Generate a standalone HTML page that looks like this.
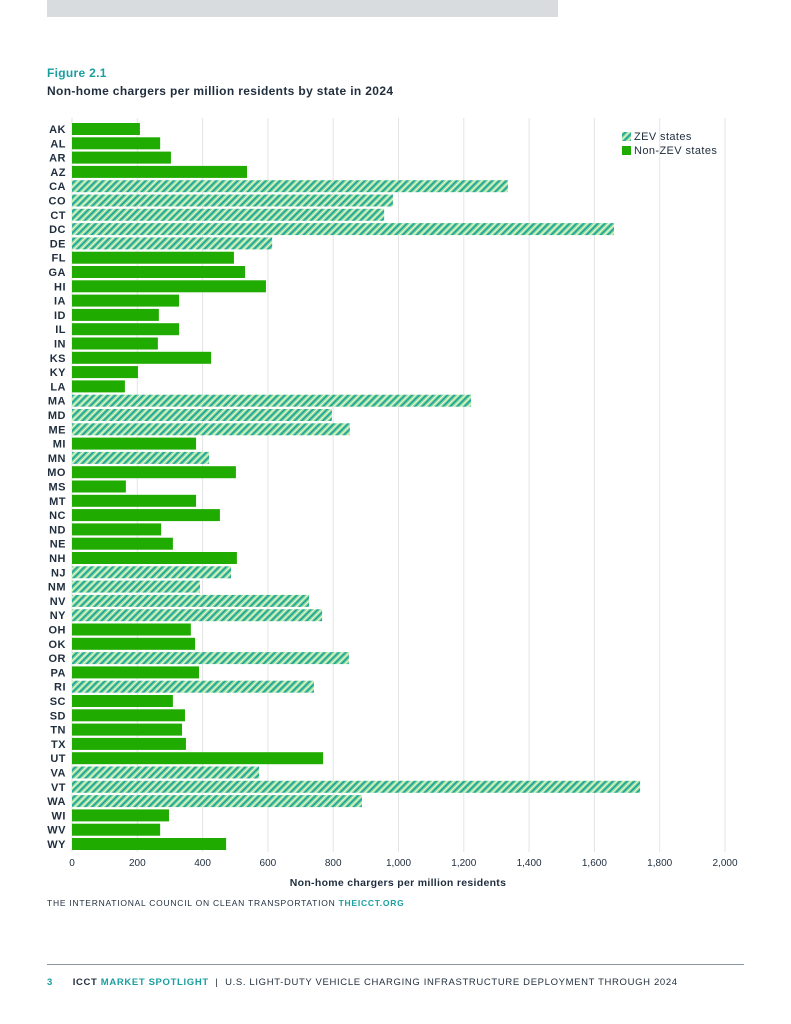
<!DOCTYPE html>
<html><head><meta charset="utf-8"><style>
body{margin:0;width:791px;height:1024px;background:#fff;font-family:"Liberation Sans",sans-serif;position:relative;overflow:hidden}
.abs{position:absolute}
</style></head><body>
<div class="abs" style="left:47px;top:0;width:511px;height:17px;background:#d9dcdf"></div>
<div class="abs" style="left:47px;top:66px;font-size:12px;font-weight:bold;color:#1a9fa0;letter-spacing:.3px">Figure 2.1</div>
<div class="abs" style="left:47px;top:84px;font-size:12px;font-weight:bold;color:#1f2d3d;letter-spacing:.35px">Non-home chargers per million residents by state in 2024</div>
<svg class="abs" style="left:0;top:0" width="791" height="1024">
<defs><pattern id="hatch" width="5" height="5" patternUnits="userSpaceOnUse" patternTransform="rotate(45)">
<rect width="5" height="5" fill="#8fd98f"/><rect width="1.6" height="5" fill="#1aa3a3"/><rect x="3" width="0.8" height="5" fill="#fff"/></pattern></defs>
<g id="grid"></g><g id="bars"></g><g id="labels"></g>
<g>
<rect x="622" y="132" width="9" height="9" fill="url(#hatch)"/><text x="634" y="140" font-size="11" fill="#1f2d3d" letter-spacing=".4">ZEV states</text>
<rect x="622" y="146" width="9" height="9" fill="#1fab00"/><text x="634" y="154" font-size="11" fill="#1f2d3d" letter-spacing=".4">Non-ZEV states</text>
</g>
<text x="398" y="886" font-size="10.5" font-weight="bold" fill="#1f2d3d" text-anchor="middle" letter-spacing=".3">Non-home chargers per million residents</text>
</svg>
<div class="abs" style="left:47px;top:898px;font-size:8.5px;color:#1f2d3d;letter-spacing:.75px">THE INTERNATIONAL COUNCIL ON CLEAN TRANSPORTATION <b style="color:#1a9fa0">THEICCT.ORG</b></div>
<div class="abs" style="left:47px;top:964px;width:697px;height:1px;background:#8a96a0"></div>
<div class="abs" style="left:47px;top:977px;font-size:9.5px;color:#1f2d3d;letter-spacing:.65px;white-space:nowrap"><b style="color:#1a9fa0">3</b>&nbsp;&nbsp;&nbsp;&nbsp;&nbsp;&nbsp;<b>ICCT <span style="color:#1a9fa0">MARKET SPOTLIGHT</span></b>&nbsp; | &nbsp;U.S. LIGHT-DUTY VEHICLE CHARGING INFRASTRUCTURE DEPLOYMENT THROUGH 2024</div>
<script>
const states=["AK","AL","AR","AZ","CA","CO","CT","DC","DE","FL","GA","HI","IA","ID","IL","IN","KS","KY","LA","MA","MD","ME","MI","MN","MO","MS","MT","NC","ND","NE","NH","NJ","NM","NV","NY","OH","OK","OR","PA","RI","SC","SD","TN","TX","UT","VA","VT","WA","WI","WV","WY"];
const values=[208,270,303,536,1335,983,956,1660,613,496,530,594,328,266,328,263,426,202,162,1222,796,851,380,420,502,165,380,453,273,309,505,487,392,726,766,364,377,848,389,741,309,346,337,349,769,573,1740,888,297,270,472];
const zevStates=["CA","CO","CT","DC","DE","MA","MD","ME","MN","NJ","NM","NV","NY","OR","RI","VA","VT","WA"];
const ticks=[0,200,400,600,800,1000,1200,1400,1600,1800,2000];
const NS="http://www.w3.org/2000/svg";
const x=v=>72+v*(653/2000);
const y=i=>129+i*(715/(states.length-1));
function mk(t,a,p){const e=document.createElementNS(NS,t);for(const k in a)e.setAttribute(k,a[k]);p.appendChild(e);return e;}
const grid=document.getElementById('grid'),bars=document.getElementById('bars'),labels=document.getElementById('labels');
ticks.forEach(t=>{
 const l=mk('line',{x1:x(t),x2:x(t),y1:118,y2:852,stroke:'#e2e4e6','stroke-width':1},grid);
 
 
 const tx=mk('text',{x:x(t),y:866,'font-size':10,fill:'#1f2d3d','text-anchor':'middle'},labels);
 tx.textContent=t.toLocaleString('en-US');
 
 
});
states.forEach((s,i)=>{
 const zev=zevStates.includes(s);
 const r=mk('rect',{x:x(0),y:y(i)-6,width:x(values[i])-x(0),height:12,fill:zev?'url(#hatch)':'#1fab00'},bars);
 
 
 const t=mk('text',{x:66,y:y(i)+4,'font-size':11,'font-weight':'bold',fill:'#1f2d3d','text-anchor':'end','letter-spacing':'.5'},labels);
 t.textContent=s;
 
 
});
</script>
</body></html>
